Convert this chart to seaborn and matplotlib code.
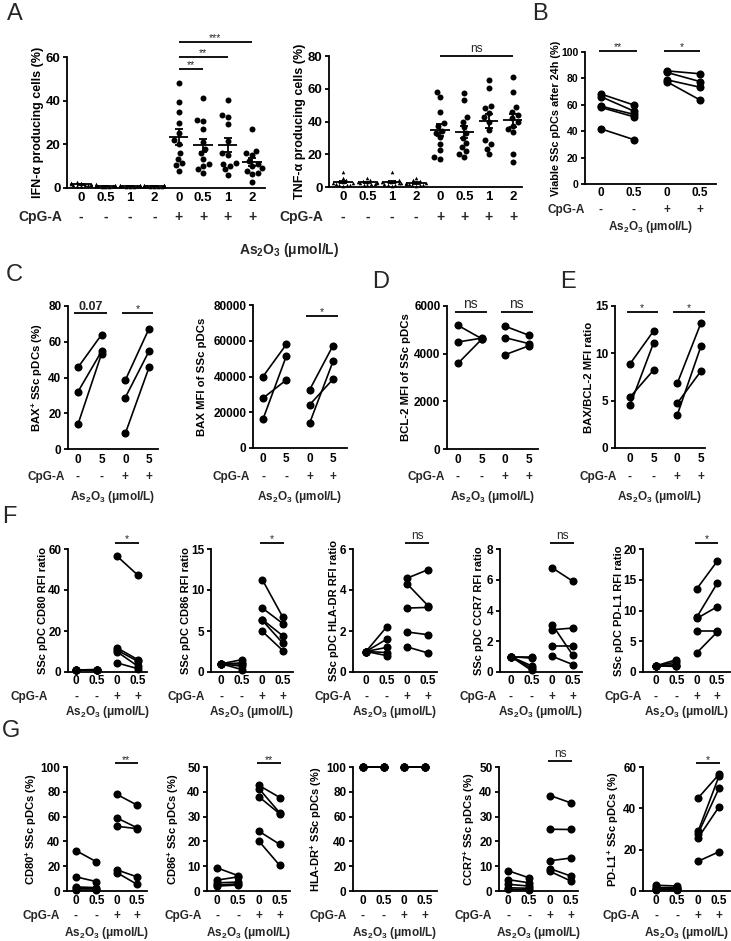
import numpy as np
import pandas as pd
import seaborn as sns
import matplotlib
matplotlib.use('Agg')
import matplotlib.pyplot as plt
import matplotlib.transforms as mtransforms

# ------------------------------------------------------------------ data
A_doses = ['0', '0.5', '1', '2', '0', '0.5', '1', '2']
A_cpg = ['-', '-', '-', '-', '+', '+', '+', '+']
ifn_neg = [[2.8, 2.5, 2.2, 2.0, 1.8, 1.6, 1.4, 1.2, 1.0, 0.8, 2.3, 1.5],
           [1.8, 1.4, 1.2, 1.0, 0.9, 0.8, 0.7, 0.6, 0.5, 0.4, 1.1, 0.9],
           [1.5, 1.3, 1.1, 1.0, 0.9, 0.8, 0.7, 0.6, 0.5, 0.4, 1.0, 0.8],
           [1.6, 1.3, 1.2, 1.0, 0.9, 0.8, 0.7, 0.6, 0.5, 0.4, 1.1, 0.6]]
ifn_pos = [[48, 39.5, 35, 30, 25, 22, 20, 16, 13.5, 11.5, 10.5, 8],
           [41, 31, 30.5, 27, 21, 18, 16, 13.5, 11, 10, 8.5, 7],
           [40.5, 33.5, 32.5, 29.5, 21.5, 16, 15, 11.5, 11, 10, 8.5, 6],
           [27, 17, 16, 15, 12.5, 11, 10, 9, 8, 7, 6.5, 2.7]]
tnf_neg = [[9.0, 5.5, 4.0, 3.5, 3.0, 2.5, 2.2, 2.0, 1.5, 1.2, 1.0, 0.5],
           [5.5, 4.5, 3.8, 3.2, 3.0, 2.8, 2.5, 2.2, 2.0, 1.8, 1.5, 1.0],
           [9.0, 4.5, 3.8, 3.5, 3.0, 2.8, 2.5, 2.2, 2.0, 1.5, 1.2, 0.8],
           [5.5, 4.0, 3.5, 3.0, 2.5, 2.2, 2.0, 1.8, 1.5, 1.2, 1.0, 0.6]]
tnf_pos = [[58, 55, 46, 39, 37, 34, 30.5, 26.5, 22.5, 18.5, 17, 33],
           [57.5, 53, 42.5, 40, 36.5, 33, 30, 27, 24.5, 22, 20, 18.5],
           [65.5, 60.5, 49.5, 48, 45, 42.5, 40, 35, 28.5, 26.5, 23.5, 20],
           [67, 58, 49, 46, 44, 42, 40, 37.5, 35.5, 33.5, 20, 15.5]]

doses_05 = ['0', '0.5', '0', '0.5']
doses_5 = ['0', '5', '0', '5']
pair_cpg = ['-', '-', '+', '+']

# each: [CpG- dose0, CpG- dose1, CpG+ dose0, CpG+ dose1] (paired by index)
B_viable = [[68.2, 66.2, 59.0, 58.0, 41.8], [59.8, 55.2, 52.7, 50.9, 33.6],
            [85.7, 84.5, 78.9, 77.4], [83.5, 77.6, 73.3, 63.6]]
C_bax_pct = [[45.6, 32.0, 13.8], [64.0, 54.7, 53.4],
             [38.5, 28.8, 8.7], [67.3, 54.7, 45.6]]
C_bax_mfi = [[40000, 27900, 16200], [58000, 38100, 51500],
             [32600, 24200, 14000], [57300, 38500, 48400]]
D_bcl2_mfi = [[5190, 4490, 3590], [4630, 4650, 4600],
              [5150, 4670, 3960], [4770, 4420, 4330]]
E_ratio = [[8.87, 5.36, 4.49], [12.37, 8.24, 11.11],
           [6.83, 4.73, 3.50], [13.21, 8.13, 10.76]]
F_cd80 = [[1, 1, 1, 1, 1], [1.2, 1.0, 0.9, 0.8, 1.1],
          [56.4, 11.7, 10.6, 9.8, 4.4], [47.2, 6.0, 5.2, 2.8, 1.6]]
F_cd86 = [[1, 1, 1, 1, 1], [1.5, 1.1, 0.7, 0.3, 1.0],
          [11.26, 7.8, 6.4, 6.3, 4.96], [6.67, 5.9, 4.4, 3.5, 2.6]]
F_hladr = [[1, 1, 1, 1, 1], [2.2, 1.6, 1.2, 0.95, 0.8],
           [4.58, 4.29, 3.12, 1.95, 1.22], [4.99, 3.24, 3.15, 1.82, 0.93]]
F_ccr7 = [[1, 1, 1, 1, 1], [1.0, 0.9, 0.4, 0.25, 0.1],
          [6.77, 3.08, 2.75, 1.67, 1.02], [5.9, 1.08, 2.86, 1.67, 0.48]]
F_pdl1 = [[1, 1, 1, 1, 1], [2.0, 1.6, 1.2, 1.0, 0.9],
          [13.5, 8.9, 8.7, 6.6, 3.1], [18.0, 14.4, 10.6, 6.6, 6.5]]
G_cd80 = [[32.6, 11.4, 3.3, 2.2, 0.8], [23.6, 7.6, 2.7, 1.9, 0.8],
          [78, 59, 52.2, 17.1, 14.9], [69.3, 51, 50.3, 11.4, 5.4]]
G_cd86 = [[9.3, 4.4, 3.3, 2.4, 2.0], [6.2, 5.7, 3.6, 2.9, 2.4],
          [42.6, 41.3, 38, 24.1, 20.1], [37.7, 31.5, 31.1, 18.8, 10.3]]
G_hladr = [[100, 100, 100, 100, 100], [100, 100, 100, 100, 100],
           [100, 100, 100, 100, 100], [100, 100, 100, 100, 100]]
G_ccr7 = [[8.2, 4.6, 2.7, 1.3, 0.7], [5.3, 3.3, 2.0, 1.1, 0.4],
          [38.5, 24.9, 12.2, 9.0, 7.9], [35.5, 24.8, 13.3, 6.0, 4.0]]
G_pdl1 = [[2.8, 1.7, 1.2, 0.9, 0.5], [2.4, 1.6, 1.2, 0.9, 0.5],
          [45, 28.9, 27.8, 25.7, 14.4], [56.5, 55.7, 49.8, 40.8, 19.0]]

# ------------------------------------------------------------------ style
sns.set_theme(style='ticks')
plt.rcParams['font.family'] = ['Liberation Sans', 'DejaVu Sans']
plt.rcParams['mathtext.default'] = 'regular'
plt.rcParams['axes.linewidth'] = 1.3
plt.rcParams['axes.edgecolor'] = 'black'

W, H = 731, 941
fig = plt.figure(figsize=(W / 100, H / 100), dpi=100)
FS = 8.5
FS_YLAB = 8.2
AS_LABEL = 'As$_2$O$_3$ (μmol/L)'


def fy(py):
    return 1 - py / H


def add_ax(l, t, r, b):
    return fig.add_axes([l / W, 1 - b / H, (r - l) / W, (b - t) / H])


def setup(ax, rect, xlim, ylim, yticks, xlabels, signs, ylabel, ylab_x,
          cpg_right, cpg_y, as_y, show_as=True, ylab_fs=FS_YLAB, fs=FS,
          yfs=None, row_fs=FS, xpad=3.5):
    ax.set_xlim(*xlim)
    ax.set_ylim(*ylim)
    ax.set_yticks(yticks)
    ax.set_yticklabels([f'{v:g}' for v in yticks], fontsize=yfs or fs,
                       fontweight='bold')
    ax.set_xticks(range(len(xlabels)))
    ax.set_xticklabels(xlabels, fontsize=fs, fontweight='bold')
    ax.tick_params(axis='x', length=0, pad=xpad, colors='black')
    ax.tick_params(axis='y', length=3.2, width=1.3, pad=1.5, colors='black')
    for s in ['top', 'right']:
        ax.spines[s].set_visible(False)
    ax.set_xlabel('')
    ax.set_ylabel(ylabel, fontsize=ylab_fs, fontweight='bold', color='black')
    ax.yaxis.set_label_coords(
        ylab_x / W, 0.5,
        transform=mtransforms.blended_transform_factory(fig.transFigure,
                                                        ax.transAxes))
    tr = mtransforms.blended_transform_factory(ax.transData, fig.transFigure)
    for i, s in enumerate(signs):
        ax.text(i, fy(cpg_y), s, transform=tr, ha='center', va='center',
                fontsize=row_fs, fontweight='bold')
    fig.text(cpg_right / W, fy(cpg_y), 'CpG-A', ha='right', va='center',
             fontsize=row_fs, fontweight='bold')
    if show_as:
        l, t, r, b = rect
        fig.text((l + r) / 2 / W, fy(as_y), AS_LABEL, ha='center',
                 va='center', fontsize=row_fs, fontweight='bold')


def sig(ax, x0, x1, y, txt, fs=7.5, weight='normal', dy=0.5):
    ax.plot([x0, x1], [y, y], color='black', lw=1.3, clip_on=False,
            solid_capstyle='butt')
    ax.annotate(txt, xy=((x0 + x1) / 2, y), xytext=(0, dy),
                textcoords='offset points', ha='center', va='bottom',
                fontsize=fs, fontweight=weight, annotation_clip=False)


def dot_panel(ax, neg, pos):
    dn = pd.DataFrame([(i, v) for i, g in enumerate(neg) for v in g],
                      columns=['x', 'y'])
    dp = pd.DataFrame([(i + len(neg), v) for i, g in enumerate(pos) for v in g],
                      columns=['x', 'y'])
    sns.swarmplot(data=dn, x='x', y='y', native_scale=True, orient='x',
                  color='black', marker='^', size=2.6, ax=ax, clip_on=False)
    sns.swarmplot(data=dp, x='x', y='y', native_scale=True, orient='x',
                  color='black', size=4.3, ax=ax)
    for i, g in enumerate(list(neg) + list(pos)):
        m = np.mean(g)
        se = np.std(g, ddof=1) / np.sqrt(len(g))
        ax.hlines(m, i - 0.4, i + 0.4, color='black', lw=1.3, zorder=5)
        ax.errorbar(i, m, yerr=se, fmt='none', ecolor='black', capsize=3.2,
                    elinewidth=1.3, capthick=1.3, zorder=5)


def paired_panel(ax, groups):
    rows = []
    for gi, (a, b) in enumerate([(groups[0], groups[1]), (groups[2], groups[3])]):
        for k, (v0, v1) in enumerate(zip(a, b)):
            rows.append(dict(x=2 * gi, y=v0, s=f'{gi}_{k}'))
            rows.append(dict(x=2 * gi + 1, y=v1, s=f'{gi}_{k}'))
    df = pd.DataFrame(rows)
    sns.lineplot(data=df, x='x', y='y', units='s', estimator=None,
                 color='black', lw=1.2, marker='o', markersize=5.8,
                 markeredgecolor='black', markeredgewidth=0, ax=ax,
                 legend=False, sort=False, clip_on=False)


# ------------------------------------------------------------------ panel A
r = (67, 57, 265, 188)
ax = add_ax(*r)
dot_panel(ax, ifn_neg, ifn_pos)
setup(ax, r, (-0.57, 7.53), (0, 60), [0, 20, 40, 60], A_doses, A_cpg,
      'IFN-α producing cells (%)', 44, 62, 217, 250, show_as=False,
      ylab_fs=9, fs=9.5, row_fs=10, xpad=3)
sig(ax, 4, 5, 54.5, '**', dy=-1)
sig(ax, 4, 6, 60, '**', dy=-1)
sig(ax, 4, 7, 67, '***', dy=-1)

r = (329, 56, 522, 187)
ax = add_ax(*r)
dot_panel(ax, tnf_neg, tnf_pos)
setup(ax, r, (-0.58, 7.37), (0, 80), [0, 20, 40, 60, 80], A_doses, A_cpg,
      'TNF-α producing cells (%)', 306, 323, 217, 250, show_as=False,
      ylab_fs=9, fs=9.5, row_fs=10, xpad=3)
sig(ax, 4, 7, 80, 'ns', fs=8.5)
fig.text(289 / W, fy(250), AS_LABEL, ha='center', va='center', fontsize=10,
         fontweight='bold')

# ------------------------------------------------------------------ panel B
r = (585, 52, 716, 184)
ax = add_ax(*r)
paired_panel(ax, B_viable)
setup(ax, r, (-0.48, 3.48), (0, 100), [0, 20, 40, 60, 80, 100], doses_05,
      pair_cpg, 'Viable SSc pDCs after 24h (%)', 561, 585, 210, 227,
      ylab_fs=7.8, yfs=7.5, xpad=2.5)
sig(ax, -0.05, 1.1, 101, '**', dy=-1)
sig(ax, 1.9, 3.0, 101, '*', dy=-1)

# ------------------------------------------------------------------ panel C
r = (68, 306, 158, 449)
ax = add_ax(*r)
paired_panel(ax, C_bax_pct)
setup(ax, r, (-0.42, 3.38), (0, 80), [0, 20, 40, 60, 80], doses_5, pair_cpg,
      'BAX$^{+}$ SSc pDCs (%)', 45, 65, 477, 497)
sig(ax, -0.17, 1.23, 76, '0.07', fs=9, weight='bold', dy=0)
sig(ax, 1.86, 3.18, 76, '*', dy=-1)

r = (253, 305, 347, 448)
ax = add_ax(*r)
paired_panel(ax, C_bax_mfi)
setup(ax, r, (-0.43, 3.6), (0, 80000), [0, 20000, 40000, 60000, 80000],
      doses_5, pair_cpg, 'BAX MFI of SSc pDCs', 207, 250, 477, 497)
sig(ax, 1.85, 3.22, 73800, '*', dy=-1)

# ------------------------------------------------------------------ panel D
r = (447, 306, 538, 449)
ax = add_ax(*r)
paired_panel(ax, D_bcl2_mfi)
setup(ax, r, (-0.46, 3.38), (0, 6000), [0, 2000, 4000, 6000], doses_5,
      pair_cpg, 'BCL-2 MFI of SSc pDCs', 411, 445, 477, 497)
sig(ax, -0.13, 1.22, 5750, 'ns', fs=10)
sig(ax, 1.81, 3.16, 5750, 'ns', fs=10)

# ------------------------------------------------------------------ panel E
r = (615, 306, 705, 448)
ax = add_ax(*r)
paired_panel(ax, E_ratio)
setup(ax, r, (-0.63, 3.17), (0, 15), [0, 5, 10, 15], doses_5, pair_cpg,
      'BAX/BCL-2 MFI ratio', 594, 617, 477, 497)
sig(ax, -0.13, 1.18, 14.4, '*', dy=-1)
sig(ax, 1.81, 3.17, 14.4, '*', dy=-1)

# ------------------------------------------------------------------ panel F
F_specs = [
    (F_cd80, (68, 549, 147, 672), (-0.39, 3.44), 60, 20,
     'SSc pDC CD80 RFI ratio', 48, 48, '*'),
    (F_cd86, (211, 549, 293, 672), (-0.49, 3.49), 15, 5,
     'SSc pDC CD86 RFI ratio', 191, 205, '*'),
    (F_hladr, (353, 549, 437, 672), (-0.63, 3.44), 6, 2,
     'SSc pDC HLA-DR RFI ratio', 339, 352, 'ns'),
    (F_ccr7, (500, 549, 582, 672), (-0.53, 3.44), 8, 2,
     'SSc pDC CCR7 RFI ratio', 484, 497, 'ns'),
    (F_pdl1, (643, 549, 730, 672), (-0.63, 3.63), 20, 5,
     'SSc pDC PD-L1 RFI ratio', 624, 642, '*'),
]
for data, r, xl, top, step, lab, lx, cx, s in F_specs:
    ax = add_ax(*r)
    paired_panel(ax, data)
    setup(ax, r, xl, (0, top), list(np.arange(0, top + step / 2, step)),
          doses_05, pair_cpg, lab, lx, cx, 697, 712, ylab_fs=8, xpad=2.5)
    if s == 'ns':
        sig(ax, 1.9, 3.05, top * 1.05, s, fs=8.5)
    else:
        sig(ax, 1.9, 3.05, top * 1.05, s, dy=-1)

# ------------------------------------------------------------------ panel G
G_specs = [
    (G_cd80, (67, 767, 147, 891), (-0.44, 3.49), 100, 20,
     'CD80$^{+}$ SSc pDCs (%)', 39, 60, '**'),
    (G_cd86, (207, 767, 290, 891), (-0.49, 3.49), 50, 10,
     'CD86$^{+}$ SSc pDCs (%)', 181, 202, '**'),
    (G_hladr, (353, 767, 437, 891), (-0.48, 3.58), 100, 20,
     'HLA-DR$^{+}$ SSc pDCs (%)', 324, 347, None),
    (G_ccr7, (499, 767, 578, 891), (-0.43, 3.33), 50, 10,
     'CCR7$^{+}$ SSc pDCs (%)', 477, 492, 'ns'),
    (G_pdl1, (643, 767, 730, 891), (-0.63, 3.52), 60, 20,
     'PD-L1$^{+}$ SSc pDCs (%)', 621, 640, '*'),
]
for data, r, xl, top, step, lab, lx, cx, s in G_specs:
    ax = add_ax(*r)
    paired_panel(ax, data)
    setup(ax, r, xl, (0, top), list(np.arange(0, top + step / 2, step)),
          doses_05, pair_cpg, lab, lx, cx, 916, 933, ylab_fs=8, xpad=3)
    if s == 'ns':
        sig(ax, 1.9, 3.05, top * 1.05, s, fs=8.5)
    elif s:
        sig(ax, 1.9, 3.05, top * 1.03, s, dy=-1)

# ------------------------------------------------------------------ labels
for letter, x, y in [('A', 7, 3), ('B', 532, 3), ('C', 6, 264),
                     ('D', 372, 271), ('E', 560, 271), ('F', 2, 506),
                     ('G', 2, 720)]:
    fig.text(x / W, fy(y), letter, ha='left', va='top', fontsize=17)

fig.savefig('out.png', dpi=100)
